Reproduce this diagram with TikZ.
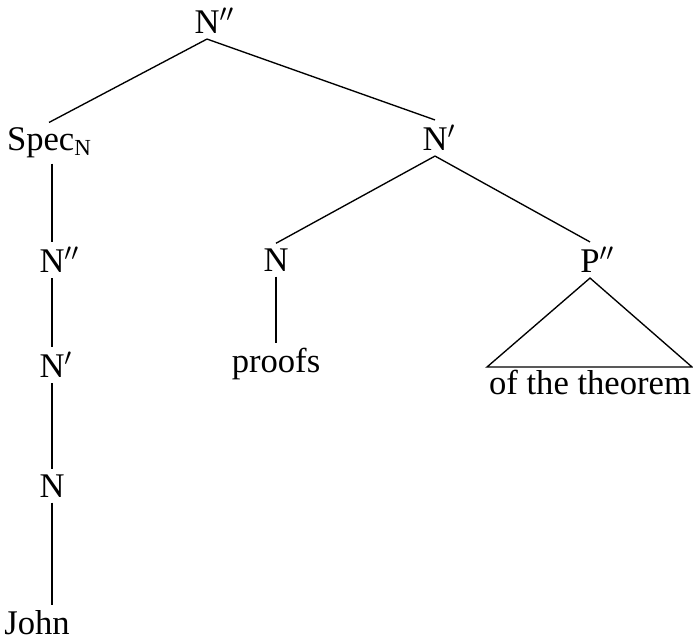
\documentclass[tikz,border=0pt]{standalone}
\usepackage{fontspec}
\setmainfont{Liberation Serif}
\usetikzlibrary{positioning}

\begin{document}
\begin{tikzpicture}[
    x=0.013cm, y=-0.013cm,
    cat/.style={font=\fontsize{12.8}{15}\selectfont, inner sep=1.8pt},
    branch/.style={line width=0.5pt}
  ]
  \useasboundingbox (0,0) rectangle (693,642);
  % top
  \node[cat] (root) at (207,21) {N\rlap{$''$}};
  \node[cat] (spec) at (49,143) {Spec{\fontsize{8.5}{9}\selectfont\raisebox{-0.45ex}{N}}};
  \node[cat] (nbar) at (435,138) {N\rlap{$'$}};

  % specifier column
  \node[cat] (specnn) at (52,260) {N\rlap{$''$}};
  \node[cat] (specn) at (52,365) {N\rlap{$'$}};
  \node[cat] (specnoun) at (52,486) {N};
  \node[cat] (john) at (37,623) {John};

  % head and complement
  \node[cat] (head) at (276,260) {N};
  \node[cat] (proofs) at (276,364) {proofs};
  \node[cat] (pp) at (590,260) {P\rlap{$''$}};
  \node[cat] (pptext) at (590,382) {of the theorem};
  \coordinate (ppl) at (487,367);
  \coordinate (ppr) at (692,367);

  \draw[branch] (root.south) -- (spec.north);
  \draw[branch] (root.south) -- (nbar.north);
  \draw[branch] (spec.south -| specnn.south) -- (specnn.north);
  \draw[branch] (specnn.south) -- (specn.north);
  \draw[branch] (specn.south) -- (specnoun.north);
  \draw[branch] (specnoun.south) -- (john.north -| specnoun.south);
  \draw[branch] (nbar.south) -- (head.north);
  \draw[branch] (nbar.south) -- (pp.north);
  \draw[branch] (head.south) -- (proofs.north);
  \draw[branch] (pp.south) -- (ppl) -- (ppr) -- cycle;
\end{tikzpicture}
\end{document}
